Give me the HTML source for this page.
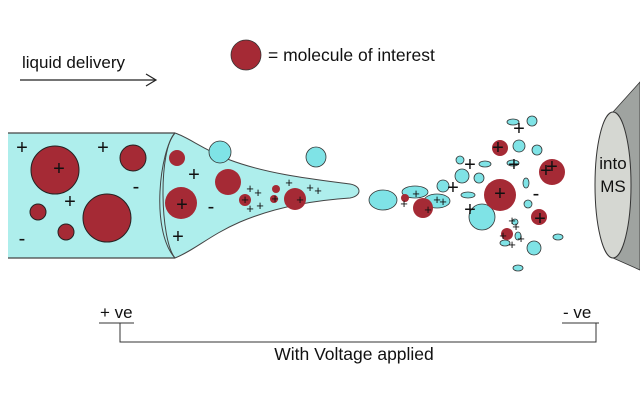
<!DOCTYPE html>
<html><head><meta charset="utf-8"><style>
html,body{margin:0;padding:0;background:#fff;}
svg{display:block;}
text{font-family:"Liberation Sans",sans-serif;fill:#111;}
</style></head><body>
<svg width="640" height="400" viewBox="0 0 640 400" xmlns="http://www.w3.org/2000/svg">
<rect width="640" height="400" fill="#fff"/>
<!-- top labels -->
<text x="22" y="68" font-size="17">liquid delivery</text>
<line x1="20" y1="80" x2="155" y2="80" stroke="#222" stroke-width="1.2"/>
<polyline points="146,74 156,80 146,86" fill="none" stroke="#222" stroke-width="1.2"/>
<circle cx="246" cy="55" r="15" fill="#a52a35" stroke="#333" stroke-width="0.8"/>
<text x="268" y="61" font-size="17.5">= molecule of interest</text>

<!-- tube -->
<rect x="8" y="133" width="167" height="125" fill="#aeeeec"/>
<line x1="8" y1="133" x2="175" y2="133" stroke="#444" stroke-width="1.2"/>
<line x1="8" y1="258" x2="175" y2="258" stroke="#444" stroke-width="1.2"/>
<path d="M175,133 C190,138 200,148 230,160 C270,175 320,180 350,184 C362,186 362,196 350,198 C320,200 280,205 240,222 C210,235 195,250 175,258 C160,240 158,150 175,133 Z" fill="#aeeeec" stroke="#444" stroke-width="1"/>
<path d="M175,133 C160,150 150,230 175,258" fill="none" stroke="#444" stroke-width="1"/>

<!-- molecules in tube -->
<g fill="#a52a35" stroke="#222" stroke-width="1">
<circle cx="55" cy="170" r="24"/><circle cx="133" cy="158" r="13"/><circle cx="107" cy="218" r="24"/>
<circle cx="38" cy="212" r="8"/><circle cx="66" cy="232" r="8"/>
</g>
<g fill="#a52a35">
<circle cx="177" cy="158" r="8"/><circle cx="181" cy="203" r="16"/><circle cx="228" cy="182" r="13"/>
<circle cx="245" cy="200" r="6"/><circle cx="276" cy="189" r="4"/><circle cx="274" cy="199" r="4"/><circle cx="295" cy="199" r="11"/>
</g>
<g fill="#7fe3e6" stroke="#333" stroke-width="0.8">
<circle cx="220" cy="152" r="11"/><circle cx="316" cy="157" r="10"/>
</g>

<!-- spray droplets -->
<g fill="#7fe3e6" stroke="#333" stroke-width="0.8">
<ellipse cx="383" cy="200" rx="14" ry="10"/>
<ellipse cx="415" cy="192" rx="13" ry="6"/>
<ellipse cx="437" cy="201" rx="13" ry="7"/>
<circle cx="443" cy="186" r="6"/>
<ellipse cx="468" cy="195" rx="7" ry="3"/>
<circle cx="462" cy="176" r="7"/>
<circle cx="479" cy="178" r="5"/>
<circle cx="482" cy="217" r="13"/>
<ellipse cx="485" cy="164" rx="6" ry="3"/>
<circle cx="460" cy="160" r="4"/>
<ellipse cx="513" cy="163" rx="6" ry="3"/>
<circle cx="519" cy="146" r="6"/>
<circle cx="537" cy="150" r="5"/>
<ellipse cx="513" cy="122" rx="6" ry="3"/>
<circle cx="532" cy="121" r="5"/>
<ellipse cx="526" cy="183" rx="3" ry="5"/>
<circle cx="528" cy="204" r="4"/>
<ellipse cx="518" cy="236" rx="3" ry="4"/>
<ellipse cx="505" cy="243" rx="5" ry="3"/>
<circle cx="534" cy="248" r="7"/>
<ellipse cx="558" cy="237" rx="5" ry="3"/>
<ellipse cx="518" cy="268" rx="5" ry="3"/>
<circle cx="515" cy="222" r="3"/>
</g>
<g fill="#a52a35">
<circle cx="405" cy="198" r="4"/><circle cx="423" cy="208" r="10"/>
<circle cx="500" cy="195" r="16"/><circle cx="500" cy="148" r="8"/>
<circle cx="552" cy="172" r="13"/><circle cx="539" cy="217" r="8"/><circle cx="507" cy="234" r="6"/>
</g>

<!-- MS inlet -->
<polygon points="613,112 640,82 640,270 613,258" fill="#9fa3a0" stroke="#333" stroke-width="0.8"/>
<ellipse cx="613" cy="185" rx="18" ry="73" fill="#d5d7d2" stroke="#333" stroke-width="1"/>
<text x="613" y="169" font-size="17" text-anchor="middle">into</text>
<text x="613" y="192" font-size="17" text-anchor="middle">MS</text>

<!-- charges -->
<g font-size="20" text-anchor="middle">
<text x="22" y="154">+</text><text x="103" y="154">+</text><text x="59" y="175">+</text>
<text x="70" y="208">+</text><text x="136" y="193">-</text><text x="22" y="245">-</text>
<text x="194" y="181">+</text><text x="182" y="211">+</text><text x="211" y="213">-</text><text x="178" y="243">+</text>
<text x="519" y="135">+</text><text x="470" y="171">+</text><text x="514" y="171">+</text>
<text x="453" y="194">+</text><text x="536" y="200">-</text><text x="470" y="216">+</text>
<text x="546" y="177">+</text><text x="552" y="173">+</text><text x="540" y="225">+</text>
<text x="500" y="200">+</text><text x="498" y="154">+</text>
</g>
<g font-size="13" text-anchor="middle">
<text x="250" y="193">+</text><text x="258" y="197">+</text><text x="245" y="204">+</text><text x="250" y="213">+</text>
<text x="260" y="210">+</text><text x="289" y="187">+</text><text x="310" y="192">+</text><text x="318" y="195">+</text>
<text x="300" y="204">+</text><text x="275" y="203">+</text>
<text x="416" y="198">+</text><text x="404" y="208">+</text><text x="428" y="214">+</text>
<text x="437" y="204">+</text><text x="443" y="206">+</text>
<text x="512" y="225">+</text><text x="516" y="231">+</text><text x="503" y="240">+</text>
<text x="521" y="243">+</text><text x="512" y="249">+</text>
</g>

<!-- voltage bracket -->
<text x="100" y="318" font-size="17">+ ve</text>
<line x1="99" y1="323" x2="134" y2="323" stroke="#333" stroke-width="1"/>
<text x="563" y="318" font-size="17">- ve</text>
<line x1="562" y1="323" x2="599" y2="323" stroke="#333" stroke-width="1"/>
<polyline points="120,323 120,342 596,342 596,323" fill="none" stroke="#333" stroke-width="1"/>
<text x="354" y="360" font-size="17.5" text-anchor="middle">With Voltage applied</text>
</svg>
</body></html>
